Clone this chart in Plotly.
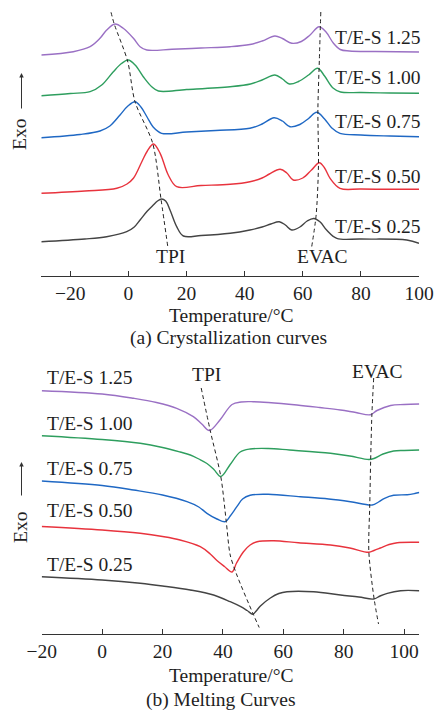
import plotly.graph_objects as go

W, H = 435, 713

# ---------------- (a) Crystallization curves: temperature (°C) and heat flow (a.u.) ----------------
cry_T_125 = [-30, -19, -13.2, -9.8, -7.5, -4.6, -1.8, 1.7, 4.0, 6.3, 15, 25, 35, 41.8, 46, 50.4, 53, 56.2, 59.5, 62.5, 65.6, 68, 70.5, 72.9, 76, 85, 100]
cry_Y_125 = [221, 224.3, 229.3, 237.7, 246, 252, 247.7, 237.7, 229.3, 226, 226.7, 228, 229.3, 231.5, 235, 240, 237.5, 232.7, 234.5, 241, 249.3, 244, 233, 226.5, 225, 224.5, 224]

cry_T_100 = [-30, -20, -13.2, -9.2, -5.2, -2.3, -0.1, 2.3, 5.1, 8.0, 10.3, 20, 35, 42, 46, 50.4, 53, 55.4, 58.5, 62, 65.1, 67.5, 70.4, 73, 80, 90, 100]
cry_Y_100 = [180.3, 182.5, 184.3, 191, 204.3, 212.7, 216, 211, 199.3, 189.3, 185, 186.5, 189.3, 192, 196, 201, 197, 192, 194.5, 201, 207.7, 200, 188, 184, 183.5, 183, 182.7]

cry_T_075 = [-30, -16.7, -9.8, -6.4, -2.9, -0.2, 2.25, 4.3, 6.4, 8.5, 11.4, 20, 30, 41.8, 46, 50.1, 53, 55.6, 59, 62, 64.8, 67.5, 70, 72.8, 80, 90, 100]
cry_Y_075 = [138.3, 141.5, 145, 150, 161, 170, 174.3, 169, 159, 149, 142.7, 144, 145.5, 147.7, 152, 158.3, 155, 149.3, 151.5, 157.5, 163.7, 157, 148, 142.7, 141, 140, 139.3]

cry_T_050 = [-30, -15, -4, -0.5, 1.7, 4.6, 6.5, 8.6, 10.9, 13.7, 16.6, 25, 35, 41.8, 46, 48.5, 52.2, 54.5, 56.7, 60, 63, 65.7, 67.5, 69.4, 72.8, 80, 100]
cry_Y_050 = [82.7, 85, 87.7, 92, 97.7, 114.3, 125, 132, 122.7, 101, 89.3, 90.5, 91.7, 94.3, 98, 102, 106.7, 103, 96, 98, 106, 113.3, 108, 97.7, 87.7, 87, 86.7]

cry_T_025 = [-30, -15, -7.5, -0.6, 2, 4.0, 6.5, 8.55, 10, 11.4, 12.8, 14.3, 16.6, 18.9, 25, 35, 41.8, 46, 49, 51.9, 54, 56.2, 59, 61.5, 63.8, 66, 68.2, 71.7, 80, 95.8, 100]
cry_Y_025 = [34.3, 37, 39.3, 44.3, 49, 56, 65, 71, 75, 77, 75, 66, 49.3, 40, 40.5, 42.7, 46, 49, 52, 54.3, 51, 46, 49, 55, 57.5, 54, 46, 37.7, 37, 36, 32.7]

cry_TPI_T = [-6.0, -4.9, -0.3, 2.25, 8.35, 11.2, 13.6]
cry_TPI_Y = [263.7, 252, 215, 174.3, 132.7, 77, 28]
cry_EVAC_T = [66.2, 65.7, 65.2, 65.4, 64.6, 63.0]
cry_EVAC_Y = [264, 216, 166, 111, 61, 28]

# ---------------- (b) Melting curves ----------------
mel_T_125 = [-20, 0, 10.4, 18, 24.7, 30.2, 33, 35.5, 39, 43, 46, 50, 55, 64.5, 72, 78.9, 84, 88.8, 91, 95.5, 100, 105]
mel_Y_125 = [243.3, 240, 235.7, 231.5, 225.7, 217.3, 210, 203.5, 214, 229.5, 232, 232.3, 231.5, 229, 226.5, 224, 221.5, 219.3, 223.5, 228.5, 229.5, 230]

mel_T_100 = [-20, 0, 12.6, 20, 25.8, 29.2, 32, 34.7, 37, 39.3, 42.4, 45.7, 49, 55, 62, 75.6, 82, 88.3, 90, 93, 96.5, 100, 105]
mel_Y_100 = [198.3, 194.5, 190.7, 186.5, 182, 179, 175, 170.5, 164.5, 157.5, 169.5, 182, 185, 185.5, 184, 180.7, 178, 174.5, 175.5, 180, 183, 183.5, 184]

mel_T_075 = [-20, 0, 10.4, 20, 28.1, 32, 34.7, 38, 40.8, 42.4, 44.6, 46.5, 49, 55, 65.6, 75, 82.2, 89.4, 91.5, 93.5, 96.5, 101, 103.5, 105]
mel_Y_075 = [153, 148.5, 144, 139, 132.3, 127, 120.7, 115, 112.3, 118, 127.3, 135, 138.8, 139.7, 137.3, 135, 132.3, 129, 132, 135.7, 138.7, 139.3, 140.5, 141.5]

mel_T_050 = [-20, 0, 12.6, 20, 25.8, 32.5, 35.8, 38, 40.5, 43, 44.5, 46.8, 49, 51.3, 56.8, 65, 75.6, 82, 88.3, 90, 92.1, 95, 97.7, 105]
mel_Y_050 = [107.5, 104, 100.7, 97.5, 94, 87.3, 80, 73.5, 67.5, 62, 71, 82.3, 89, 92.3, 93.3, 91.3, 89, 86, 81.7, 83.5, 86, 89.5, 91.3, 91.7]

mel_T_025 = [-20, 0, 12.6, 20, 29.2, 36.9, 42.4, 45.9, 48, 49.9, 51, 52.4, 55.7, 58.5, 61.2, 70, 78.9, 85, 89.9, 92, 94.4, 98.8, 105]
mel_Y_025 = [57.3, 54, 50.7, 48, 44, 39, 32.3, 27.3, 23.5, 19.8, 23, 28, 36, 40.5, 42.3, 42.3, 39, 37, 35, 38, 40.7, 43.3, 43.3]

mel_TPI_T = [32.8, 35.8, 39.3, 41.1, 42.4, 44.6, 50.0, 52.0]
mel_TPI_Y = [246, 203.3, 157.3, 112.3, 79, 59, 20, 6.5]
mel_EVAC_T = [89.9, 89.3, 88.9, 88.6, 88.3, 90.0, 91.5]
mel_EVAC_Y = [256, 219, 174, 129, 82, 36, 10]

series_names = ["T/E-S 1.25", "T/E-S 1.00", "T/E-S 0.75", "T/E-S 0.50", "T/E-S 0.25"]
colors = ["#9a70c4", "#2e9e5e", "#1f68c4", "#e8333d", "#444444"]
tick_vals = [-20, 0, 20, 40, 60, 80, 100]

FONT = "Liberation Serif, Times New Roman, serif"
FS = 19.5
TXT = "#1e1e1e"

fig = go.Figure()

cry = [(cry_T_125, cry_Y_125), (cry_T_100, cry_Y_100), (cry_T_075, cry_Y_075), (cry_T_050, cry_Y_050), (cry_T_025, cry_Y_025)]
mel = [(mel_T_125, mel_Y_125), (mel_T_100, mel_Y_100), (mel_T_075, mel_Y_075), (mel_T_050, mel_Y_050), (mel_T_025, mel_Y_025)]

for (t, y), c, n in zip(cry, colors, series_names):
    fig.add_trace(go.Scatter(x=t, y=y, mode="lines", name=n, xaxis="x", yaxis="y",
                             line=dict(color=c, width=1.4, shape="spline", smoothing=1.0)))
for (t, y), c, n in zip(mel, colors, series_names):
    fig.add_trace(go.Scatter(x=t, y=y, mode="lines", name=n, xaxis="x2", yaxis="y2",
                             line=dict(color=c, width=1.4, shape="spline", smoothing=1.0)))

for t, y, xa, ya in [(cry_TPI_T, cry_TPI_Y, "x", "y"), (cry_EVAC_T, cry_EVAC_Y, "x", "y"),
                     (mel_TPI_T, mel_TPI_Y, "x2", "y2"), (mel_EVAC_T, mel_EVAC_Y, "x2", "y2")]:
    fig.add_trace(go.Scatter(x=t, y=y, mode="lines", xaxis=xa, yaxis=ya,
                             line=dict(color="#222222", width=1, dash="4px,3px", shape="spline", smoothing=0.8)))

def px(xp, yp):
    return xp / W, 1 - yp / H

axis_common = dict(showline=True, linecolor="#333333", linewidth=1, ticks="inside", ticklen=5,
                   tickwidth=1, tickcolor="#333333", tickvals=tick_vals, showgrid=False, zeroline=False,
                   tickfont=dict(family=FONT, size=FS, color=TXT), mirror=False, automargin=False)

fig.update_layout(
    width=W, height=H, margin=dict(l=0, r=0, t=0, b=0, pad=0, autoexpand=False),
    paper_bgcolor="white", plot_bgcolor="white", showlegend=False,
    xaxis=dict(domain=[41.3 / W, 419 / W], range=[-30, 100], anchor="y", **axis_common),
    yaxis=dict(domain=[1 - 276 / H, 1], range=[0, 276], visible=False, automargin=False),
    xaxis2=dict(domain=[41.7 / W, 419.3 / W], range=[-20, 105], anchor="y2", **axis_common),
    yaxis2=dict(domain=[1 - 634 / H, 1 - 356 / H], range=[0, 278], visible=False, automargin=False),
)

ann = []
def text(s, xp, yp, xanchor="center", angle=0):
    x, y = px(xp, yp)
    ann.append(dict(text=s, x=x, y=y, xref="paper", yref="paper", showarrow=False,
                    xanchor=xanchor, yanchor="middle", textangle=angle,
                    font=dict(family=FONT, size=FS, color=TXT)))

# labels in (a)
for n, yp in zip(series_names, [37.5, 77.5, 121.3, 176.5, 226.7]):
    text(n, 332.7, yp, xanchor="left")
text("TPI", 170.8, 256.7)
text("EVAC", 322.7, 256.7)
text("Temperature/°C", 231.3, 315)
text("(a) Crystallization curves", 228, 338)
text("Exo", 20, 135, angle=-90)

# labels in (b)
for n, yp in zip(series_names, [377, 423.3, 468.3, 510.5, 564.8]):
    text(n, 44.8, yp, xanchor="left")
text("TPI", 206.7, 375)
text("EVAC", 377.7, 371.7)
text("Temperature/°C", 231, 675)
text("(b) Melting Curves", 220.5, 700)
text("Exo", 20, 528, angle=-90)

# Exo arrows
for yh, yt in [(73, 110), (462, 497)]:
    x, y = px(21.5, yh)
    ann.append(dict(text="", x=x, y=y, xref="paper", yref="paper", showarrow=True,
                    ax=0, ay=yt - yh, arrowhead=2, arrowsize=0.9, arrowwidth=1, arrowcolor="#333333"))

fig.update_layout(annotations=ann)
fig.write_html("out.html")
